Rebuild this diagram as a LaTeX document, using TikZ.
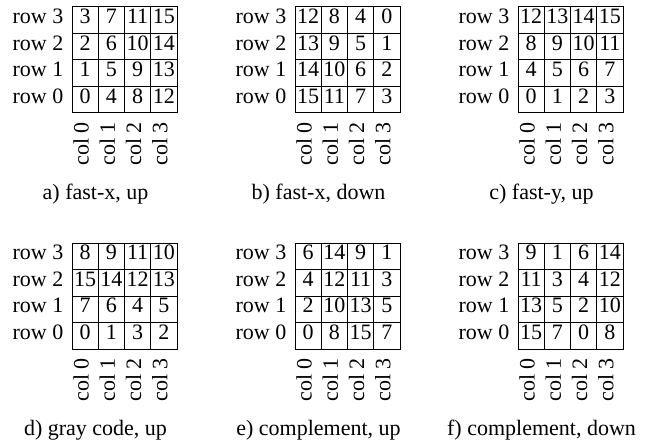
\documentclass[tikz,border=0pt]{standalone}
\usepackage{fontspec}
\setmainfont{Liberation Serif}
\begin{document}
\begin{tikzpicture}[x=1pt,y=-1pt,
  every node/.style={font=\fontsize{22pt}{26pt}\selectfont},
  cell/.style={draw,line width=1pt,minimum width=26.25pt,minimum height=26.5pt,
    inner sep=0pt,text height=0.68em,text depth=0pt},
  rowlabel/.style={anchor=east,inner sep=0pt,text height=0.68em,text depth=0pt},
  collabel/.style={anchor=east,rotate=90,inner sep=0pt,text height=0.68em,text depth=0pt},
  caption/.style={inner sep=0pt}]
\useasboundingbox (0,0) rectangle (651,441);
% #1 name, #2 x of grid's left edge, #3 y of grid's top edge,
% #4 caption, #5..#8 cell values of rows 3, 2, 1, 0
\newcommand\gridpanel[8]{%
  \foreach \vals [count=\ri from 0] in {{#5},{#6},{#7},{#8}} {
    \pgfmathtruncatemacro\rr{3-\ri}
    \node[rowlabel] (#1-row\rr) at (#2-8.5, #3+26.5*\ri+13.25) {row \rr};
    \foreach \v [count=\ci from 0] in \vals {
      \node[cell] (#1-\rr-\ci) at (#2+26.25*\ci+13.125, #3+26.5*\ri+13.25) {\v};
    }
  }
  \foreach \ci in {0,1,2,3} {
    \node[collabel] (#1-col\ci) at (#2+26.25*\ci+13.125, #3+115) {col \ci};
  }
  \node[caption] (#1-caption) at (#2+23.5, #3+187) {#4};
}
\gridpanel{a}{72}{7}{a) fast-x, up}{3,7,11,15}{2,6,10,14}{1,5,9,13}{0,4,8,12}
\gridpanel{b}{295}{7}{b) fast-x, down}{12,8,4,0}{13,9,5,1}{14,10,6,2}{15,11,7,3}
\gridpanel{c}{518}{7}{c) fast-y, up}{12,13,14,15}{8,9,10,11}{4,5,6,7}{0,1,2,3}
\gridpanel{d}{72}{243}{d) gray code, up}{8,9,11,10}{15,14,12,13}{7,6,4,5}{0,1,3,2}
\gridpanel{e}{295}{243}{e) complement, up}{6,14,9,1}{4,12,11,3}{2,10,13,5}{0,8,15,7}
\gridpanel{f}{518}{243}{f) complement, down}{9,1,6,14}{11,3,4,12}{13,5,2,10}{15,7,0,8}
\end{tikzpicture}
\end{document}
